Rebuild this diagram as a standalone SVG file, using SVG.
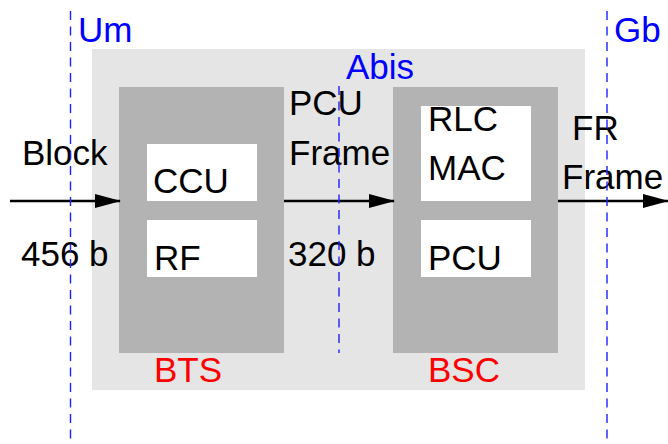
<svg xmlns="http://www.w3.org/2000/svg" width="668" height="444" viewBox="0 0 668 444">
<style>
text{font-family:"Liberation Sans",Arial,sans-serif;font-size:35px;fill:#000}
.blue{fill:#0000ff}
.red{fill:#ff0000}
.dash{stroke:#2020ff;stroke-width:1.4;stroke-dasharray:9,6.5;fill:none}
.inner{fill:#b3b3b3}
.box{fill:#ffffff}
.arr{stroke:#000;stroke-width:2.7;fill:none;marker-end:url(#ah)}
</style>
<defs>
<marker id="ah" markerUnits="userSpaceOnUse" markerWidth="26" markerHeight="16" refX="25" refY="8" orient="auto">
<path d="M0,1 L26,8 L0,15 Z" fill="#000"/>
</marker>
</defs>
<rect id="system" x="92" y="49" width="493" height="341" fill="#e5e5e5"/>
<g id="bts">
<rect class="inner" x="119" y="87" width="165" height="266"/>
<text class="red" x="154" y="382">BTS</text>
</g>
<g id="ccu">
<rect class="box" x="147" y="144" width="110" height="57"/>
<text x="153" y="193">CCU</text>
</g>
<g id="rf">
<rect class="box" x="147" y="220" width="110" height="57"/>
<text x="154" y="270">RF</text>
</g>
<g id="bsc">
<rect class="inner" x="393" y="87" width="165" height="266"/>
<text class="red" x="428" y="382">BSC</text>
</g>
<g id="rlcmac">
<rect class="box" x="421" y="106" width="110" height="95"/>
<text x="428" y="131">RLC</text>
<text x="428" y="180">MAC</text>
</g>
<g id="pcu">
<rect class="box" x="421" y="220" width="110" height="57"/>
<text x="428" y="270">PCU</text>
</g>
<g id="connectors">
<line class="arr" x1="10" y1="201" x2="120" y2="201"/>
<line class="arr" x1="284" y1="201" x2="394" y2="201"/>
<line class="arr" x1="558" y1="201" x2="668" y2="201"/>
</g>
<g id="labels">
<text x="22" y="165">Block</text>
<text x="21" y="266">456 b</text>
<text x="289" y="115">PCU</text>
<text x="289" y="165">Frame</text>
<text x="288" y="266">320 b</text>
<text x="572" y="140">FR</text>
<text x="562" y="189">Frame</text>
</g>
<g id="interfaces">
<line class="dash" x1="70.5" y1="11" x2="70.5" y2="444"/>
<line class="dash" x1="339" y1="86" x2="339" y2="353"/>
<line class="dash" x1="607" y1="11" x2="607" y2="444"/>
<text class="blue" x="78" y="42">Um</text>
<text class="blue" x="346" y="79">Abis</text>
<text class="blue" x="614" y="42">Gb</text>
</g>
</svg>
